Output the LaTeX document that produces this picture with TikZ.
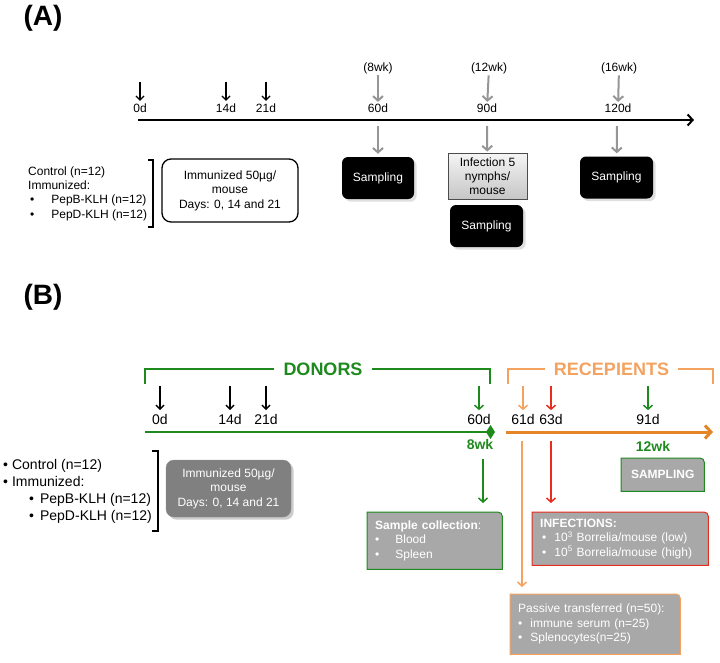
\documentclass[tikz,border=0pt]{standalone}
\usepackage{fontspec}
\setmainfont{Liberation Sans}
\usepackage{tikz}
\usetikzlibrary{arrows.meta,shadows,backgrounds,calc}

\definecolor{dgreen}{RGB}{30,138,30}
\definecolor{lorange}{RGB}{244,162,96}
\definecolor{dorange}{RGB}{228,134,40}
\definecolor{ired}{RGB}{232,44,30}
\definecolor{agrey}{RGB}{150,150,150}
\definecolor{boxgrey}{RGB}{168,168,168}
\definecolor{dboxgrey}{RGB}{128,128,128}

% box with one rounded corner (top right)
\newcommand{\tabbox}[2]{%
  \begin{scope}[on background layer]
    \draw[fill=boxgrey, draw=#2, line width=1pt]
      (#1.south west) -- (#1.north west) -- ([xshift=-10pt]#1.north east)
      .. controls (#1.north east) .. ([yshift=-10pt]#1.north east)
      -- (#1.south east) -- cycle;
  \end{scope}}

\begin{document}
\begin{tikzpicture}[x=1pt, y=-1pt,
    dayA/.style={font=\fontsize{12}{14}\selectfont, inner sep=1.5pt},
    dayB/.style={font=\fontsize{14}{16}\selectfont, inner sep=1.5pt},
    blkarr/.style={line width=1.3pt, -{Straight Barb[length=4pt,width=8pt]}},
    greyarr/.style={agrey, line width=2pt, -{Straight Barb[length=4.5pt,width=10pt]}},
    colarr/.style={line width=1.5pt, -{Straight Barb[length=4pt,width=9pt]}},
    sampbox/.style={fill=black, text=white, rounded corners=6pt, minimum width=72pt,
      minimum height=42pt, font=\fontsize{12}{14}\selectfont, drop shadow={opacity=0.25}},
    tabtxt/.style={text=white, font=\fontsize{12}{14.5}\selectfont, align=left,
      inner xsep=8pt, inner ysep=0pt, anchor=north west},
    wk/.style={dgreen, font=\bfseries\fontsize{14}{16}\selectfont}]

  \useasboundingbox (0,0) rectangle (720,662);

  %%%%%%%%%% (A)
  \node[font=\bfseries\fontsize{28}{30}\selectfont] (labA) at (43,18) {(A)};

  % timeline
  \coordinate (tlAs) at (138,120);
  \coordinate (tlAe) at (694,120);
  \draw[line width=2pt, -{Straight Barb[length=5pt,width=11pt]}] (tlAs) -- (tlAe);

  % immunisation days
  \node[dayA] (a0) at (140,108) {0d};
  \node[dayA] (a14) at (226,108) {14d};
  \node[dayA] (a21) at (266,108) {21d};
  \foreach \n in {a0,a14,a21}{
    \coordinate (\n t) at ($(\n)+(0,-26)$);
    \draw[blkarr, shorten >=1pt] (\n t) -- (\n);
  }

  % sampling days
  \node[dayA] (a60) at (378,108) {60d};
  \node[dayA] (a90) at (487,108) {90d};
  \node[dayA] (a120) at (618,108) {120d};
  \node[dayA] (w8) at (378,68) {(8wk)};
  \node[dayA] (w12) at (489,68) {(12wk)};
  \node[dayA] (w16) at (619,68) {(16wk)};
  \draw[greyarr] (w8) -- (a60);
  \draw[greyarr] (w12) -- (a90);
  \draw[greyarr] (w16) -- (a120);

  % boxes below
  \node[sampbox] (sampA1) at (378,178) {Sampling};
  \node[draw=black!70, line width=0.8pt, top color=gray!8, bottom color=gray!45,
    minimum width=79pt, minimum height=46pt, inner sep=1pt,
    font=\fontsize{12}{14}\selectfont, align=center] (infA) at (487.5,176)
    {Infection 5\\nymphs/\\mouse};
  \node[sampbox, minimum width=73pt] (sampA2) at (486.5,226) {Sampling};
  \node[sampbox, minimum width=73pt] (sampA3) at (616.5,177.5) {Sampling};
  \coordinate (t60) at (378,126);
  \coordinate (t90) at (487,126);
  \coordinate (t120) at (617,126);
  \draw[greyarr, shorten >=3pt] (t60) -- (sampA1);
  \draw[greyarr, shorten >=1pt] (t90) -- (infA);
  \draw[greyarr, shorten >=3pt] (t120) -- (sampA3);

  % groups
  \node[anchor=west, align=left, inner sep=0pt, font=\fontsize{12}{14.3}\selectfont]
    (grpA) at (28,193.5)
    {Control (n=12)\\Immunized:\\
     \hspace*{2pt}\textbullet\hspace{17pt}PepB-KLH (n=12)\\
     \hspace*{2pt}\textbullet\hspace{17pt}PepD-KLH (n=12)};
  \draw[line width=1.5pt] (148,160) -- (153,160) -- (153,227) -- (148,227);
  \node[draw, line width=1.3pt, rounded corners=9pt, minimum width=136pt,
    minimum height=63pt, align=center, font=\fontsize{12}{14.5}\selectfont]
    (immA) at (230,190.5) {Immunized 50µg/\\mouse\\Days: 0, 14 and 21};

  %%%%%%%%%% (B)
  \node[font=\bfseries\fontsize{28}{30}\selectfont] (labB) at (43,297) {(B)};

  % brackets
  \node[dgreen, font=\bfseries\fontsize{18}{20}\selectfont, inner xsep=9pt]
    (donors) at (323,369) {DONORS};
  \coordinate (donL) at (145,384);
  \coordinate (donR) at (490,384);
  \draw[dgreen, line width=1.5pt] (donL) |- (donors.west);
  \draw[dgreen, line width=1.5pt] (donors.east) -| (donR);

  \node[lorange, font=\bfseries\fontsize{18}{20}\selectfont, inner xsep=9pt]
    (recep) at (611.5,369) {RECEPIENTS};
  \coordinate (recL) at (508,384);
  \coordinate (recR) at (713,384);
  \draw[lorange, line width=2pt] (recL) |- (recep.west);
  \draw[lorange, line width=2pt] (recep.east) -| (recR);

  % timelines
  \coordinate (tlBs) at (145,432);
  \coordinate (tlBm) at (495,432);
  \coordinate (tlBo) at (506,432);
  \coordinate (tlBe) at (713,432);
  \draw[dgreen, line width=2.5pt, -{Diamond[length=9pt,width=14pt]}] (tlBs) -- (tlBm);
  \draw[dorange, line width=3pt, -{Straight Barb[length=6pt,width=13pt]}] (tlBo) -- (tlBe);

  % days
  \node[dayB] (b0) at (160,419) {0d};
  \node[dayB] (b14) at (230,419) {14d};
  \node[dayB] (b21) at (266,419) {21d};
  \foreach \n in {b0,b14,b21}{
    \coordinate (\n t) at ($(\n)+(0,-33)$);
    \draw[blkarr, line width=1.5pt, shorten >=2pt] (\n t) -- (\n);
  }
  \node[dayB] (b60) at (479,419) {60d};
  \node[dayB] (b61) at (523,419) {61d};
  \node[dayB] (b63) at (551,419) {63d};
  \node[dayB] (b91) at (648,419) {91d};
  \coordinate (b60t) at (479,386);
  \coordinate (b61t) at (523,386);
  \coordinate (b63t) at (551,386);
  \coordinate (b91t) at (648,386);
  \draw[colarr, dgreen, shorten >=2pt] (b60t) -- (b60);
  \draw[colarr, lorange, shorten >=2pt] (b61t) -- (b61);
  \draw[colarr, ired, shorten >=2pt] (b63t) -- (b63);
  \draw[colarr, dgreen, shorten >=2pt] (b91t) -- (b91);

  \node[wk] (wk8) at (480,444) {8wk};
  \node[wk] (wk12) at (653,446) {12wk};

  % groups
  \node[anchor=west, align=left, inner sep=0pt, font=\fontsize{14}{17}\selectfont]
    (grpB) at (3,491.5)
    {\textbullet\hspace{4pt}Control (n=12)\\
     \textbullet\hspace{4pt}Immunized:\\
     \hspace*{26pt}\textbullet\hspace{6pt}PepB-KLH (n=12)\\
     \hspace*{26pt}\textbullet\hspace{6pt}PepD-KLH (n=12)};
  \draw[line width=1.5pt] (152,451) -- (158,451) -- (158,531) -- (152,531);
  \node[fill=dboxgrey, draw=black!45, rounded corners=8pt, minimum width=125pt,
    minimum height=57pt, align=center, text=white, font=\fontsize{12}{14.5}\selectfont,
    drop shadow={opacity=0.4}]
    (immB) at (228.5,488.5) {Immunized 50µg/\\mouse\\Days: 0, 14 and 21};

  % result boxes
  \node[tabtxt, text width=67pt, minimum height=33pt, align=center,
    font=\bfseries\fontsize{12}{14}\selectfont] (sampB) at (621,458) {SAMPLING};
  \tabbox{sampB}{dgreen}

  \node[tabtxt, text width=119pt, minimum height=57pt] (collB) at (367,512)
    {\textbf{Sample collection}:\\
     \textbullet\hspace{16pt}Blood\\
     \textbullet\hspace{16pt}Spleen};
  \tabbox{collB}{dgreen}

  \node[tabtxt, text width=160pt, minimum height=53pt] (infB) at (532,512)
    {\textbf{INFECTIONS:}\\
     \hspace*{2pt}\textbullet\hspace{8pt}10\textsuperscript{3} Borrelia/mouse (low)\\
     \hspace*{2pt}\textbullet\hspace{8pt}10\textsuperscript{5} Borrelia/mouse (high)};
  \tabbox{infB}{ired}

  \node[tabtxt, text width=154pt, minimum height=60pt] (passB) at (510,594)
    {Passive transferred (n=50):\\
     \textbullet\hspace{8pt}immune serum (n=25)\\
     \textbullet\hspace{8pt}Splenocytes(n=25)};
  \tabbox{passB}{lorange}

  % arrows down to boxes
  \coordinate (c60) at (483,459);
  \coordinate (c61) at (522,441);
  \coordinate (c63) at (551,441);
  \draw[colarr, dgreen, shorten >=9pt] (c60) -- (c60 |- collB.north);
  \draw[colarr, lorange, shorten >=7pt] (c61) -- (c61 |- passB.north);
  \draw[colarr, ired, shorten >=9pt] (c63) -- (c63 |- infB.north);

\end{tikzpicture}
\end{document}
